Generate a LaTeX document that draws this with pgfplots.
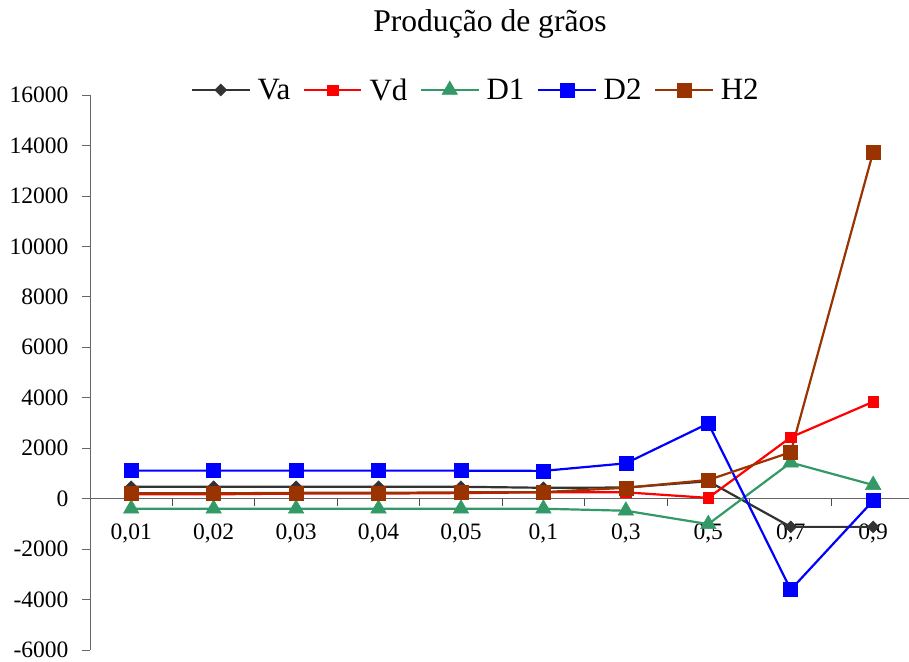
\documentclass[border=0pt]{standalone}
\usepackage{pgfplots}
\pgfplotsset{compat=1.18}
\usepackage{fontspec}
\setmainfont{Liberation Serif}
\definecolor{cVa}{HTML}{333333}
\definecolor{cVd}{HTML}{FF0000}
\definecolor{cDa}{HTML}{339966}
\definecolor{cDb}{HTML}{0000FF}
\definecolor{cH}{HTML}{993300}
\begin{document}
\begin{tikzpicture}
\path[use as bounding box] (-90pt,-11pt) rectangle (819pt,650pt);
\begin{axis}[
  scale only axis, width=819.2pt, height=555pt,
  xmin=-0.5, xmax=9.437, ymin=-6000, ymax=16000,
  axis x line=middle, axis y line=left,
  axis line style={-, draw=black!60, line width=0.8pt},
  hide obscured x ticks=false, hide obscured y ticks=false,
  scaled y ticks=false,
  tick align=outside, major tick length=8pt,
  tick style={draw=black!60, line width=0.8pt},
  every x tick/.style={draw=none},
  xtick={0,1,...,9},
  xticklabels={{0,01},{0,02},{0,03},{0,04},{0,05},{0,1},{0,3},{0,5},{0,7},{0,9}},
  ytick={-6000,-4000,...,16000},
  yticklabels={-6000,-4000,-2000,0,2000,4000,6000,8000,10000,12000,14000,16000},
  ticklabel style={font=\fontsize{23.5}{27}\selectfont},
  xticklabel style={anchor=base, yshift=-33pt},
  yticklabel style={anchor=east, xshift=-10pt},
  legend columns=5,
  legend style={at={(0.474,1.009)}, anchor=center, draw=none, fill=none,
    font=\fontsize{31}{36}\selectfont,
    nodes={inner xsep=7pt},
    /tikz/every even column/.append style={column sep=5.5pt}},
  legend image code/.code={\draw[mark repeat=2,mark phase=2] plot coordinates {(0pt,0pt)(28.75pt,0pt)(57.5pt,0pt)};},
]
\pgfplotsinvokeforeach{0.5,1.5,2.5,3.5,4.5,5.5,6.5,7.5,8.5}{
  \draw[black!70, line width=1pt] (axis cs:#1,0) -- (axis cs:#1,-300);
}
\addplot[color=cVa, line width=2.2pt, mark=square*, mark size=4.2pt, mark options={solid, rotate=45, line width=0.5pt}]
  coordinates {(0,470)(1,470)(2,470)(3,470)(4,470)(5,430)(6,440)(7,690)(8,-1120)(9,-1120)};
\addlegendentry{Va}
\addplot[color=cVd, line width=2.2pt, mark=square*, mark size=5.2pt, mark options={solid, line width=0.5pt}]
  coordinates {(0,170)(1,170)(2,200)(3,200)(4,220)(5,250)(6,250)(7,30)(8,2430)(9,3840)};
\addlegendentry{Vd}
\addplot[color=cDa, line width=2.2pt, mark=triangle*, mark size=9pt, mark options={solid, line width=0.5pt}]
  coordinates {(0,-400)(1,-400)(2,-400)(3,-400)(4,-400)(5,-400)(6,-480)(7,-1010)(8,1430)(9,540)};
\addlegendentry{D1}
\addplot[color=cDb, line width=2.2pt, mark=square*, mark size=7pt, mark options={solid, line width=0.5pt}]
  coordinates {(0,1110)(1,1110)(2,1110)(3,1110)(4,1110)(5,1100)(6,1400)(7,2980)(8,-3610)(9,-80)};
\addlegendentry{D2}
\addplot[color=cH, line width=2.2pt, mark=square*, mark size=7pt, mark options={solid, line width=0.5pt}]
  coordinates {(0,210)(1,210)(2,230)(3,230)(4,250)(5,260)(6,430)(7,740)(8,1840)(9,13740)};
\addlegendentry{H2}
\end{axis}
\node[anchor=base, font=\fontsize{31.6}{38}\selectfont] at (400pt,618pt) {Produção de grãos};
\end{tikzpicture}
\end{document}
